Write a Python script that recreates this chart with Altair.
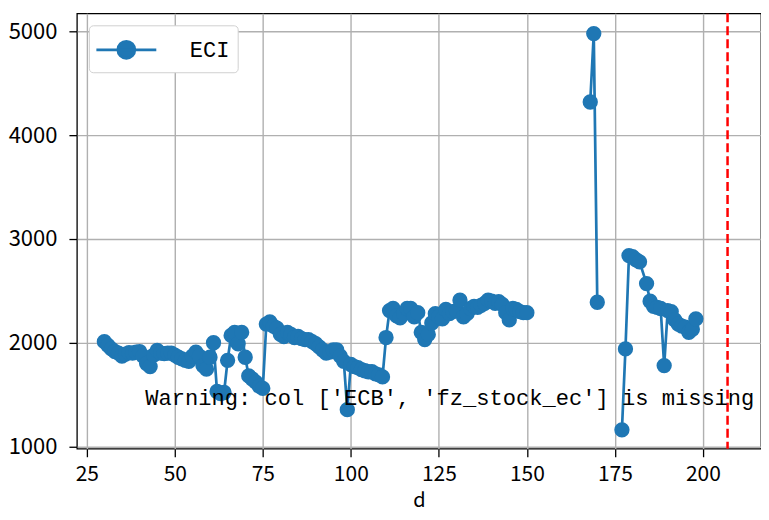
import altair as alt
import pandas as pd

days = list(range(30, 151)) + [168, 169, 170, 177, 178, 179, 180, 181, 182, 184, 185,
                               186, 187, 188, 189, 190, 191, 192, 193, 194, 195, 196, 197, 198]
eci = [2010, 1975, 1940, 1915, 1900, 1870, 1890, 1905, 1900, 1910,
       1915, 1870, 1800, 1770, 1880, 1925, 1900, 1895, 1900, 1900,
       1880, 1860, 1845, 1830, 1820, 1870, 1910, 1870, 1780, 1745,
       1860, 2000, 1530, 1510, 1520, 1830, 2070, 2100, 1990, 2100,
       1860, 1680, 1650, 1620, 1580, 1560, 2180, 2200, 2160, 2140,
       2080, 2060, 2100, 2080, 2050, 2060, 2040, 2030, 2030, 2010,
       1990, 1960, 1930, 1900, 1910, 1930, 1930, 1870, 1820, 1355,
       1790, 1770, 1760, 1740, 1730, 1720, 1720, 1700, 1690, 1670,
       2050, 2310, 2330, 2260, 2240, 2280, 2330, 2330, 2250, 2290,
       2100, 2030, 2080, 2190, 2280, 2250, 2230, 2320, 2280, 2300,
       2310, 2410, 2250, 2280, 2330, 2350, 2340, 2360, 2380, 2410,
       2400, 2380, 2395, 2370, 2290, 2220, 2330, 2320, 2300, 2290,
       2290,
       4320, 4980, 2390, 1160, 1940, 2840, 2830, 2800, 2780, 2570, 2400,
       2350, 2340, 2330, 1780, 2310, 2300, 2220, 2180, 2160, 2150, 2100, 2130, 2230]
# contiguous runs (missing values break the line)
segment_starts = [30, 168, 177]
series_name = ["ECI"]
x_ticks = [25, 50, 75, 100, 125, 150, 175, 200]
y_ticks = [1000, 2000, 3000, 4000, 5000]
vline_at = [207]
warning = "Warning: col ['ECB', 'fz_stock_ec'] is missing"

seg = [sum(1 for s in segment_starts if d >= s) for d in days]
df = pd.DataFrame({"d": days, "ECI": eci, "seg": seg, "series": series_name * len(days)})
vdf = pd.DataFrame({"d": vline_at})

W, H = 685, 436
BLUE = "#1f77b4"
MONO = "Liberation Mono"
SANS = "Noto Sans CJK SC"

xs = alt.Scale(domain=[22.2, 216.5], nice=False, zero=False)
ys = alt.Scale(domain=[978, 5175], nice=False, zero=False)

x_enc = alt.X("d:Q", scale=xs, axis=alt.Axis(values=x_ticks, title="d", format="d",
                                             titleY=58, titleBaseline="alphabetic",
                                             labelFontSize=21, labelPadding=7))
y_enc = alt.Y("ECI:Q", scale=ys, axis=alt.Axis(values=y_ticks, title=None, format="d"))

legend_path = ("M -2 0 L 2 0 M -0.57 0 A 0.57 0.57 0 1 0 0.57 0 "
               "A 0.57 0.57 0 1 0 -0.57 0 Z")

line = alt.Chart(df).mark_line(strokeWidth=2.7).encode(
    x=x_enc, y=y_enc, detail="seg:N",
    color=alt.Color("series:N", scale=alt.Scale(range=[BLUE]),
                    legend=alt.Legend(title=None, orient="top-left", offset=12,
                                      symbolType=legend_path, symbolSize=900,
                                      symbolOffset=13,
                                      symbolStrokeWidth=2.7, symbolFillColor=BLUE,
                                      symbolStrokeColor=BLUE, symbolOpacity=1,
                                      labelFont=MONO, labelFontSize=22, labelColor="black",
                                      labelOffset=47, padding=8, cornerRadius=4,
                                      strokeColor="#d0d0d0", fillColor="white"))
)
pts = alt.Chart(df).mark_circle(size=235, opacity=1, color=BLUE).encode(x=x_enc, y=y_enc)

vline = alt.Chart(vdf).mark_rule(color="red", strokeWidth=2.5, strokeDash=[9, 4]).encode(
    x=alt.X("d:Q", scale=xs))

text = alt.Chart(pd.DataFrame({"t": [warning]})).mark_text(
    align="left", baseline="alphabetic", font=MONO, fontSize=22.1, color="black"
).encode(x=alt.value(W * 0.1), y=alt.value(H * 0.9), text="t:N")

chart = alt.layer(line, pts, vline, text).properties(
    width=W, height=H,
    autosize=alt.AutoSizeParams(type="none"),
    padding={"left": 69, "top": 5, "right": 0, "bottom": 63},
).configure_view(stroke="black", strokeWidth=1.3).configure_axis(
    grid=True, gridColor="#b0b0b0", gridWidth=1.4, domain=False,
    tickColor="black", tickSize=8, tickWidth=1.3,
    labelFont=SANS, labelFontSize=22, labelColor="black",
    titleFont=SANS, titleFontSize=20, titleFontWeight="normal", titleColor="black",
).configure_axisY(labelPadding=12)

chart.save("out.html", embed_options={"renderer": "svg", "actions": False})
